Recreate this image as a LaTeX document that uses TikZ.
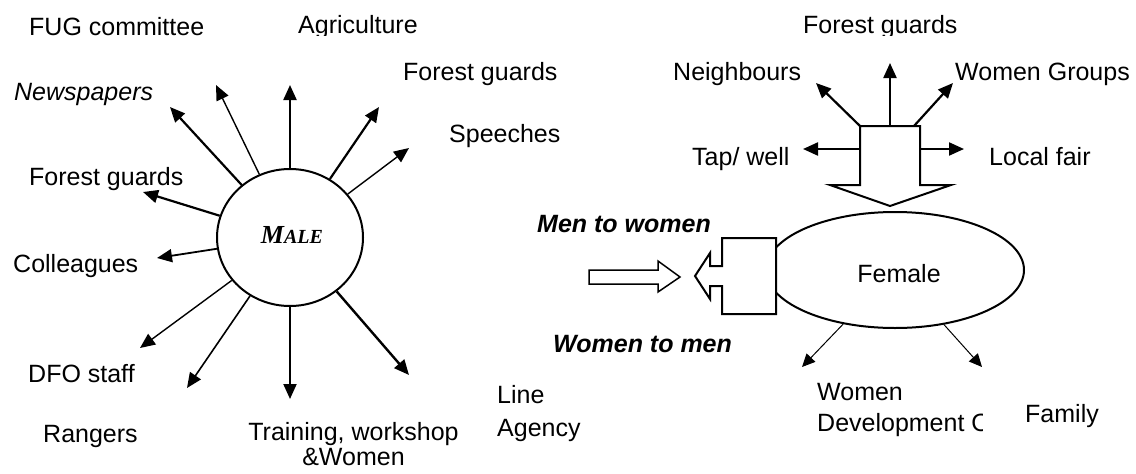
\documentclass[tikz,border=0pt]{standalone}
\usepackage{fontspec}
\setmainfont{Liberation Sans}
\newfontfamily\tnr{Liberation Serif}
\usetikzlibrary{arrows.meta,shapes.geometric}

\tikzset{
  lbl/.style={anchor=base west,inner sep=0pt,font=\fontsize{25}{30}\selectfont},
  lblc/.style={lbl,anchor=base},
  boldlbl/.style={lbl,font=\fontsize{25}{30}\selectfont\bfseries\itshape},
  ray/.style={-{Triangle[length=15pt,width=13pt]},line width=2.2pt},
  thinray/.style={ray,line width=1.4pt},
  midray/.style={ray,line width=1.8pt},
  fineray/.style={-{Triangle[length=13pt,width=12pt]},line width=1pt},
  outline/.style={draw,line width=2pt,fill=white},
}

\begin{document}
\begin{tikzpicture}[x=1pt,y=-1pt]
\useasboundingbox (0,0) rectangle (1136,474);

% ---------- male side ----------
\node[ellipse,draw,line width=2pt,minimum width=146pt,minimum height=137pt,inner sep=0pt] (male) at (290,237.5) {};
\node[anchor=base,inner sep=0pt] (maletext) at (292,243)
  {\tnr\bfseries\itshape\fontsize{26}{30}\selectfont M\fontsize{20}{24}\selectfont ALE};

\coordinate (t1) at (290,85);
\coordinate (t2) at (216,85);
\coordinate (t3) at (170,107);
\coordinate (t4) at (143,192);
\coordinate (t5) at (157,258);
\coordinate (t6) at (140,348);
\coordinate (t7) at (187,388);
\coordinate (t8) at (290,399);
\coordinate (t9) at (409,375);
\coordinate (t10) at (379,107);
\coordinate (t11) at (409,148);

\draw[ray] (male) -- (t1);
\draw[thinray] (male) -- (t2);
\draw[ray] (male) -- (t3);
\draw[ray] (male) -- (t4);
\draw[midray] (male) -- (t5);
\draw[thinray] (male) -- (t6);
\draw[thinray,line width=1.6pt] (male) -- (t7);
\draw[ray,line width=2pt] (male) -- (t8);
\draw[ray,line width=2.4pt] (male) -- (t9);
\draw[ray] (male) -- (t10);
\draw[thinray] (male) -- (t11);

\node[lbl] (fug) at (29,35) {FUG committee};
\begin{scope}
  \clip (0,0) rectangle (1136,35.5);
  \node[lbl] (agri) at (298,33) {Agriculture};
  \node[lbl] (fgtop) at (803,33) {Forest guards};
\end{scope}
\node[lbl,font=\fontsize{25}{30}\selectfont\itshape] (news) at (14,100) {Newspapers};
\node[lbl] (fgleft) at (29,185) {Forest guards};
\node[lbl] (coll) at (13,272) {Colleagues};
\node[lbl] (dfo) at (28,382) {DFO staff};
\node[lbl] (rang) at (43,442) {Rangers};
\node[lblc] (train1) at (353.5,440) {Training, workshop};
\node[lblc] (train2) at (353.5,465) {\&Women};
\node[lbl] (fgmid) at (403,80) {Forest guards};
\node[lbl] (spe) at (449,142) {Speeches};
\node[lbl] (line1) at (497,403) {Line};
\node[lbl] (line2) at (497,436) {Agency};

% ---------- female side ----------
\node[ellipse,draw,line width=2pt,minimum width=258pt,minimum height=116pt,inner sep=0pt] (female) at (895,270) {};
\node[lblc] (femtext) at (899,282) {Female};

% hub box with its downward block arrow
\draw[outline] (860,126) -- (920,126) -- (920,185) -- (951,185) -- (890,206)
  -- (830,185) -- (860,185) -- cycle;
\coordinate (hubN) at (890,126);
\coordinate (hubNW) at (860,126);
\coordinate (hubNE) at (914,126);
\coordinate (hubW) at (860,149);
\coordinate (hubE) at (920,149);
\coordinate (h1) at (890,63);
\coordinate (h2) at (816,83);
\coordinate (h3) at (953,83);
\coordinate (h4) at (803,149);
\coordinate (h5) at (964,149);
\draw[ray] (hubN) -- (h1);
\draw[ray] (hubNW) -- (h2);
\draw[ray] (hubNE) -- (h3);
\draw[ray] (hubW) -- (h4);
\draw[ray] (hubE) -- (h5);

% callout box with leftward block arrow
\draw[outline] (722,238) -- (722,266) -- (710,266) -- (710,253) -- (695,276)
  -- (710,299) -- (710,286) -- (722,286) -- (722,314) -- (776,314) -- (776,238) -- cycle;

% hollow rightward arrow
\draw[line width=1.5pt] (589,270) -- (658,270) -- (658,261) -- (680,277)
  -- (658,292) -- (658,284) -- (589,284) -- cycle;

\coordinate (f1) at (802,367);
\coordinate (f2) at (982,367);
\draw[fineray] (female) -- (f1);
\draw[fineray] (female) -- (f2);

\node[lbl] (neigh) at (673,80) {Neighbours};
\node[lbl] (wg) at (955,80) {Women Groups};
\node[lbl] (tap) at (692,165) {Tap/ well};
\node[lbl] (fair) at (989,165) {Local fair};
\node[boldlbl] (m2w) at (537,232) {Men to women};
\node[boldlbl] (w2m) at (553,352) {Women to men};
\node[lbl] (wd1) at (817,400) {Women};
\begin{scope}
  \clip (800,405) rectangle (982,445);
  \node[lbl] (wd2) at (817,431) {Development O};
\end{scope}
\node[lbl] (fam) at (1025,422) {Family};
\end{tikzpicture}
\end{document}
